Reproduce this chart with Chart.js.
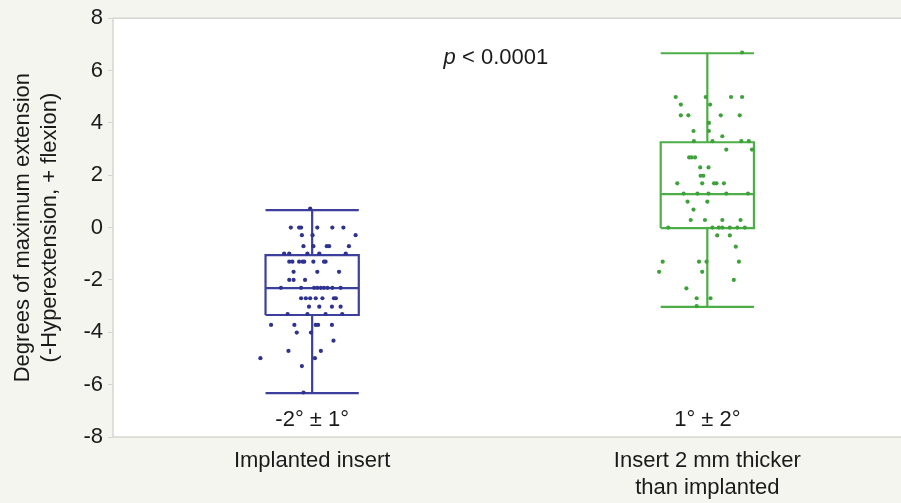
<!DOCTYPE html>
<html><head><meta charset="utf-8">
<script src="https://cdn.jsdelivr.net/npm/chart.js@4"></script>
<style>html,body{margin:0;padding:0;background:#f5f5ef;}#c{display:block;}</style>
</head><body>
<canvas id="c" width="901" height="503"></canvas>
<script>
// ---- data ----
const categories = ['Implanted insert', ['Insert 2 mm thicker', 'than implanted']];
const groupStats = ['-2\u00B0 \u00B1 1\u00B0', '1\u00B0 \u00B1 2\u00B0'];
const pValueText = '< 0.0001';
const yTicks = [-8, -6, -4, -2, 0, 2, 4, 6, 8];

const whiskerLow = [-6.32, -3.03];
const quartile1 = [-3.34, -0.02];
const medians = [-2.31, 1.28];
const quartile3 = [-1.05, 3.26];
const whiskerHigh = [0.67, 6.66];

// individual observations: value and horizontal jitter (in category units)
const implantedValues = [0.73,
  0,0,0,0,0,0,
  -0.29,-0.29,-0.29,
  -0.71,-0.71,-0.71,-0.71,-0.71,
  -0.99,-0.99,-0.99,-0.99,-0.99,
  -1.3,-1.3,-1.3,-1.3,-1.3,-1.3,-1.3,-1.3,
  -1.69,-1.69,-1.69,
  -2,-2,-2,
  -2.3,-2.3,-2.3,-2.3,-2.3,-2.3,-2.3,-2.3,-2.3,
  -2.7,-2.7,-2.7,-2.7,-2.7,-2.7,-2.7,
  -3.02,-3.02,-3.02,-3.02,
  -3.3,-3.3,-3.3,-3.3,
  -3.72,-3.72,-3.72,-3.72,-3.72,
  -4.01,-4.01,
  -4.32,
  -4.71,-4.71,
  -4.99,-4.99,
  -5.29,
  -6.3];
const implantedJitter = [-0.005,
  -0.054,-0.033,-0.028,0.013,0.051,0.079,
  -0.026,0.001,0.110,
  -0.022,0.003,0.037,0.043,0.093,
  -0.071,-0.058,-0.012,0.018,0.085,
  -0.058,-0.050,-0.033,-0.024,-0.020,0.003,0.030,0.034,
  -0.047,0.013,0.068,
  -0.058,-0.047,-0.018,
  -0.079,-0.028,0.005,0.013,0.022,0.030,0.039,0.051,0.072,
  -0.028,-0.016,-0.005,0.009,0.026,0.055,0.060,
  -0.008,0.018,0.050,0.072,
  -0.062,-0.012,0.034,0.076,
  -0.104,-0.045,0.009,0.015,0.050,
  -0.039,-0.003,
  0.054,
  -0.060,0.022,
  -0.131,0.007,
  -0.026,
  -0.022];

const thickerValues = [6.69,
  4.99,4.99,4.99,4.99,
  4.7,4.7,
  4.29,4.29,4.29,4.29,
  4.0,
  3.69,3.69,
  3.49,
  3.3,3.3,3.3,3.3,
  2.98,2.98,
  2.68,2.68,2.68,
  2.3,2.3,
  1.98,1.98,
  1.69,1.69,1.69,1.69,1.69,
  1.3,1.3,1.3,1.3,1.3,
  0.99,0.99,
  0.69,
  0.29,0.29,0.29,0.29,
  0,0,0,0,0,0,0,
  -0.3,-0.3,
  -0.73,
  -1.3,-1.3,-1.3,-1.3,
  -1.69,-1.69,
  -2.0,
  -2.32,
  -2.7,-2.7,
  -3.0];
const thickerJitter = [0.088,
  -0.080,-0.004,0.060,0.088,
  -0.067,0.007,
  -0.067,-0.048,0.034,0.082,
  0.004,
  -0.035,0.004,
  0.038,
  -0.034,0.013,0.086,0.105,
  0.048,0.113,
  -0.046,-0.040,-0.031,
  -0.018,0.003,
  -0.017,-0.010,
  -0.076,-0.013,0.017,0.023,0.042,
  -0.060,-0.025,0.003,0.048,0.103,
  -0.050,0.0,
  -0.035,
  -0.042,-0.006,0.038,0.084,
  -0.099,0.013,0.029,0.038,0.057,0.076,0.095,
  0.025,0.057,
  0.072,
  -0.113,-0.021,-0.002,0.080,
  -0.122,-0.013,
  0.067,
  -0.053,
  -0.027,0.008,
  -0.027];

// ---- styles ----
const lineColors = ['#3c409c', '#4cae46'];
const pointColors = ['#2f3390', '#3fa13b'];
const boxHalf = 0.118;
const FONT = '"Liberation Sans", Arial, Helvetica, sans-serif';
const TEXT = '#1a1a1a';

function boxDatasets(i) {
  const c = i + 1, col = lineColors[i];
  const base = {type: 'line', showLine: true, pointRadius: 0, pointHoverRadius: 0,
    borderColor: col, borderWidth: 2.2, fill: false, tension: 0, order: 2};
  return [
    {...base, data: [{x: c - boxHalf, y: quartile1[i]}, {x: c + boxHalf, y: quartile1[i]},
      {x: c + boxHalf, y: quartile3[i]}, {x: c - boxHalf, y: quartile3[i]}, {x: c - boxHalf, y: quartile1[i]}]},
    {...base, data: [{x: c - boxHalf, y: medians[i]}, {x: c + boxHalf, y: medians[i]}]},
    {...base, data: [{x: c, y: quartile3[i]}, {x: c, y: whiskerHigh[i]}]},
    {...base, data: [{x: c, y: quartile1[i]}, {x: c, y: whiskerLow[i]}]},
    {...base, data: [{x: c - boxHalf, y: whiskerHigh[i]}, {x: c + boxHalf, y: whiskerHigh[i]}]},
    {...base, data: [{x: c - boxHalf, y: whiskerLow[i]}, {x: c + boxHalf, y: whiskerLow[i]}]}
  ];
}
function pointDataset(values, jitter, i) {
  return {type: 'scatter', data: values.map((v, k) => ({x: i + 1 + jitter[k], y: v})),
    pointRadius: 2.1, pointBorderWidth: 0, backgroundColor: pointColors[i], borderColor: pointColors[i], order: 1};
}

const frame = {
  id: 'frame',
  beforeDraw(chart) {
    const {ctx, chartArea: a} = chart;
    ctx.save();
    ctx.fillStyle = '#ffffff';
    ctx.fillRect(a.left, a.top, chart.width - a.left, a.bottom - a.top);
    ctx.strokeStyle = '#d6d6d2';
    ctx.lineWidth = 1.5;
    ctx.beginPath();
    ctx.moveTo(chart.width, a.top); ctx.lineTo(a.left, a.top); ctx.lineTo(a.left, a.bottom); ctx.lineTo(chart.width, a.bottom);
    ctx.stroke();
    ctx.restore();
  },
  afterDatasetsDraw(chart) {
    const {ctx, chartArea: a, scales: {x}} = chart;
    ctx.save();
    ctx.fillStyle = TEXT;
    ctx.textBaseline = 'middle';
    ctx.textAlign = 'center';
    ctx.font = '22px ' + FONT;
    groupStats.forEach((t, i) => ctx.fillText(t, x.getPixelForValue(i + 1), a.bottom - 17));
    // p-value
    const rest = ' ' + pValueText;
    ctx.font = 'italic 22px ' + FONT;
    const wp = ctx.measureText('p').width;
    ctx.font = '22px ' + FONT;
    const wr = ctx.measureText(rest).width;
    const cx = x.getPixelForValue(1.465);
    const start = cx - (wp + wr) / 2;
    ctx.textAlign = 'left';
    ctx.font = 'italic 22px ' + FONT;
    ctx.fillText('p', start, a.top + 40);
    ctx.font = '22px ' + FONT;
    ctx.fillText(rest, start + wp, a.top + 40);
    ctx.restore();
  }
};

const datasets = [
  ...boxDatasets(0), ...boxDatasets(1),
  pointDataset(implantedValues, implantedJitter, 0),
  pointDataset(thickerValues, thickerJitter, 1)
];

new Chart(document.getElementById('c'), {
  type: 'scatter',
  data: {datasets},
  options: {
    responsive: false, animation: false, devicePixelRatio: 1,
    layout: {padding: {top: 18, right: 0, left: 0, bottom: 0}},
    plugins: {legend: {display: false}, tooltip: {enabled: false}},
    scales: {
      x: {
        type: 'linear', min: 0.496, max: 2.48,
        afterBuildTicks: s => { s.ticks = [{value: 1}, {value: 2}]; },
        afterFit: s => { s.height = 66; },
        grid: {display: false, drawTicks: false},
        border: {display: false},
        ticks: {callback: v => categories[Math.round(v) - 1], color: TEXT, padding: 10,
          font: {family: FONT, size: 22, lineHeight: 1.23}, maxRotation: 0, autoSkip: false}
      },
      y: {
        min: -8, max: 8,
        afterBuildTicks: s => { s.ticks = yTicks.map(v => ({value: v})); },
        afterFit: s => { s.width = 113; },
        grid: {drawOnChartArea: false, drawTicks: true, tickLength: 5, color: '#d6d6d2'},
        border: {display: false},
        ticks: {color: TEXT, padding: 5, font: {family: FONT, size: 22}},
        title: {display: true, text: ['Degrees of maximum extension', '(-Hyperextension, + flexion)'],
          color: TEXT, font: {family: FONT, size: 22, lineHeight: 1.25}, padding: {top: 9, bottom: 0}}
      }
    }
  },
  plugins: [frame]
});
</script>
</body></html>
